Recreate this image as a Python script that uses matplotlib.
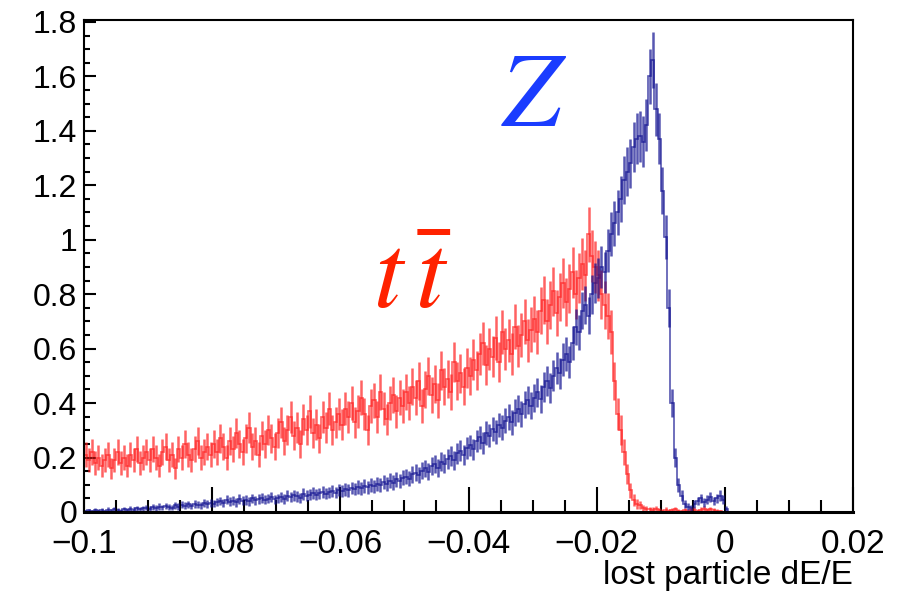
import matplotlib.pyplot as plt
import numpy as np

bin_lo, bin_hi, bin_w = -0.1, 0.02, 0.0005

ttbar = [
    # -0.100 .. -0.090
    0.21, 0.19, 0.22, 0.18, 0.20, 0.17, 0.19, 0.21, 0.16, 0.19,
    0.22, 0.18, 0.20, 0.17, 0.21, 0.19, 0.23, 0.18, 0.20, 0.22,
    # -0.090 .. -0.080
    0.19, 0.23, 0.20, 0.17, 0.22, 0.24, 0.19, 0.21, 0.16, 0.23,
    0.20, 0.25, 0.21, 0.19, 0.23, 0.26, 0.20, 0.22, 0.24, 0.21,
    # -0.080 .. -0.070
    0.25, 0.22, 0.27, 0.24, 0.20, 0.26, 0.23, 0.29, 0.25, 0.22,
    0.27, 0.31, 0.24, 0.26, 0.21, 0.28, 0.25, 0.30, 0.27, 0.24,
    # -0.070 .. -0.060
    0.29, 0.33, 0.26, 0.30, 0.35, 0.28, 0.31, 0.25, 0.34, 0.30,
    0.37, 0.29, 0.32, 0.27, 0.35, 0.31, 0.38, 0.30, 0.33, 0.36,
    # -0.060 .. -0.050
    0.32, 0.38, 0.35, 0.40, 0.33, 0.37, 0.42, 0.36, 0.30, 0.39,
    0.41, 0.35, 0.44, 0.38, 0.34, 0.40, 0.43, 0.37, 0.42, 0.39,
    # -0.050 .. -0.040
    0.44, 0.40, 0.46, 0.42, 0.48, 0.39, 0.45, 0.50, 0.43, 0.47,
    0.41, 0.52, 0.46, 0.49, 0.44, 0.55, 0.48, 0.51, 0.46, 0.53,
    # -0.040 .. -0.030
    0.50, 0.56, 0.52, 0.58, 0.62, 0.54, 0.60, 0.57, 0.64, 0.55,
    0.66, 0.60, 0.63, 0.58, 0.68, 0.61, 0.65, 0.70, 0.63, 0.67,
    # -0.030 .. -0.020
    0.71, 0.66, 0.74, 0.78, 0.70, 0.76, 0.81, 0.73, 0.79, 0.84,
    0.77, 0.82, 0.88, 0.80, 0.86, 0.91, 0.87, 1.02, 0.94, 0.90,
    # -0.020 .. -0.010
    0.87, 0.80, 0.76, 0.72, 0.66, 0.48, 0.36, 0.30, 0.22, 0.14,
    0.08, 0.045, 0.03, 0.025, 0.015, 0.012, 0.010, 0.008, 0.012, 0.006,
    # -0.010 .. 0.000
    0.005, 0.008, 0.004, 0.006, 0.010, 0.005, 0.003, 0.007, 0.004, 0.006,
    0.008, 0.005, 0.009, 0.012, 0.007, 0.010, 0.006, 0.004, 0.002, 0.001,
    # 0.000 .. 0.020
    0, 0, 0, 0, 0, 0, 0, 0, 0, 0, 0, 0, 0, 0, 0, 0, 0, 0, 0, 0,
    0, 0, 0, 0, 0, 0, 0, 0, 0, 0, 0, 0, 0, 0, 0, 0, 0, 0, 0, 0,
]

zpole = [
    # -0.100 .. -0.090
    0.004, 0.006, 0.003, 0.008, 0.005, 0.007, 0.004, 0.009, 0.006, 0.010,
    0.007, 0.005, 0.011, 0.008, 0.012, 0.009, 0.014, 0.010, 0.013, 0.016,
    # -0.090 .. -0.080
    0.012, 0.018, 0.015, 0.020, 0.017, 0.022, 0.019, 0.016, 0.024, 0.020,
    0.026, 0.023, 0.028, 0.021, 0.030, 0.027, 0.025, 0.032, 0.029, 0.034,
    # -0.080 .. -0.070
    0.031, 0.036, 0.040, 0.033, 0.045, 0.038, 0.042, 0.035, 0.048, 0.041,
    0.044, 0.039, 0.050, 0.043, 0.047, 0.052, 0.045, 0.049, 0.055, 0.046,
    # -0.070 .. -0.060
    0.050, 0.056, 0.048, 0.060, 0.054, 0.062, 0.057, 0.051, 0.066, 0.060,
    0.064, 0.070, 0.063, 0.068, 0.074, 0.067, 0.072, 0.078, 0.071, 0.080,
    # -0.060 .. -0.050
    0.076, 0.083, 0.079, 0.088, 0.084, 0.092, 0.087, 0.095, 0.090, 0.100,
    0.094, 0.104, 0.098, 0.110, 0.103, 0.115, 0.108, 0.120, 0.114, 0.126,
    # -0.050 .. -0.040
    0.130, 0.122, 0.138, 0.145, 0.135, 0.152, 0.160, 0.148, 0.168, 0.175,
    0.162, 0.185, 0.178, 0.195, 0.205, 0.190, 0.215, 0.225, 0.210, 0.235,
    # -0.040 .. -0.030
    0.245, 0.230, 0.260, 0.275, 0.255, 0.290, 0.280, 0.305, 0.295, 0.320,
    0.310, 0.335, 0.350, 0.330, 0.365, 0.380, 0.360, 0.395, 0.410, 0.390,
    # -0.030 .. -0.020
    0.42, 0.44, 0.415, 0.46, 0.48, 0.455, 0.50, 0.53, 0.51, 0.56,
    0.58, 0.55, 0.62, 0.68, 0.66, 0.74, 0.76, 0.72, 0.80, 0.84,
    # -0.020 .. -0.010
    0.86, 0.90, 0.88, 0.96, 1.02, 1.06, 1.10, 1.15, 1.22, 1.25,
    1.28, 1.34, 1.37, 1.38, 1.36, 1.42, 1.60, 1.66, 1.48, 1.37,
    # -0.010 .. 0.000
    1.18, 1.01, 0.75, 0.40, 0.20, 0.10, 0.06, 0.03, 0.02, 0.015,
    0.030, 0.040, 0.050, 0.035, 0.045, 0.055, 0.040, 0.050, 0.060, 0.045,
    # 0.000 .. 0.020
    0.012, 0, 0, 0, 0, 0, 0, 0, 0, 0, 0, 0, 0, 0, 0, 0, 0, 0, 0, 0,
    0, 0, 0, 0, 0, 0, 0, 0, 0, 0, 0, 0, 0, 0, 0, 0, 0, 0, 0, 0,
]

# error bar scale (err = k * sqrt(content))
ttbar_err_k = 0.10
zpole_err_k = 0.08


# ================================== plot ====================================

def draw_hist(ax, values, k, color, alpha):
    edges = np.linspace(bin_lo, bin_hi, len(values) + 1)
    centers = 0.5 * (edges[:-1] + edges[1:])
    vals = np.asarray(values, dtype=float)
    ax.stairs(vals, edges, color=color, alpha=alpha, lw=1.2)
    mask = vals > 0
    ax.errorbar(centers[mask], vals[mask], yerr=k * np.sqrt(vals[mask]),
                fmt='none', ecolor=color, alpha=alpha, elinewidth=1.8,
                capsize=0)


def main():
    plt.rcParams['font.family'] = ['Liberation Sans', 'DejaVu Sans']
    plt.rcParams['mathtext.fontset'] = 'stix'

    fig = plt.figure(figsize=(8.97, 5.93), dpi=100)
    ax = fig.add_axes([0.0936, 0.1366, 0.8574, 0.8297])

    draw_hist(ax, ttbar, ttbar_err_k, '#ff2020', 0.7)
    draw_hist(ax, zpole, zpole_err_k, '#101090', 0.7)

    ax.set_xlim(bin_lo, bin_hi)
    ax.set_ylim(0, 1.807)

    ax.set_xticks(np.arange(-0.1, 0.0201, 0.02))
    ax.set_xticks(np.arange(-0.1, 0.0201, 0.005), minor=True)
    ax.set_xticklabels(['\u22120.1', '\u22120.08', '\u22120.06', '\u22120.04',
                        '\u22120.02', '0', '0.02'])
    ax.set_yticks(np.arange(0, 1.81, 0.2))
    ax.set_yticks(np.arange(0, 1.81, 0.05), minor=True)
    ax.set_yticklabels(['0', '0.2', '0.4', '0.6', '0.8', '1', '1.2', '1.4',
                        '1.6', '1.8'])

    ax.tick_params(axis='x', which='major', direction='in', length=18,
                   width=1.5, labelsize=24, pad=12, top=False)
    ax.tick_params(axis='x', which='minor', direction='in', length=9,
                   width=1.5, top=False)
    ax.tick_params(axis='y', which='major', direction='in', length=8.5,
                   width=1.5, labelsize=23, pad=5, right=False)
    ax.tick_params(axis='y', which='minor', direction='in', length=4,
                   width=1.5, right=False)

    for side in ['left', 'top', 'right']:
        ax.spines[side].set_linewidth(1.5)
    ax.spines['bottom'].set_linewidth(2.2)

    fig.text(0.951, 0.003, 'lost particle dE/E', ha='right', va='bottom',
             fontsize=24)

    ax.text(-0.0297, 1.52, r'$Z$', color='#1a3cff', fontsize=76,
            ha='center', va='center')
    ax.text(-0.0488, 0.85, r'$t\,\bar{t}$', color='#ff2200', fontsize=76,
            ha='center', va='center')

    fig.savefig('out.png', dpi=100)


if __name__ == '__main__':
    main()
